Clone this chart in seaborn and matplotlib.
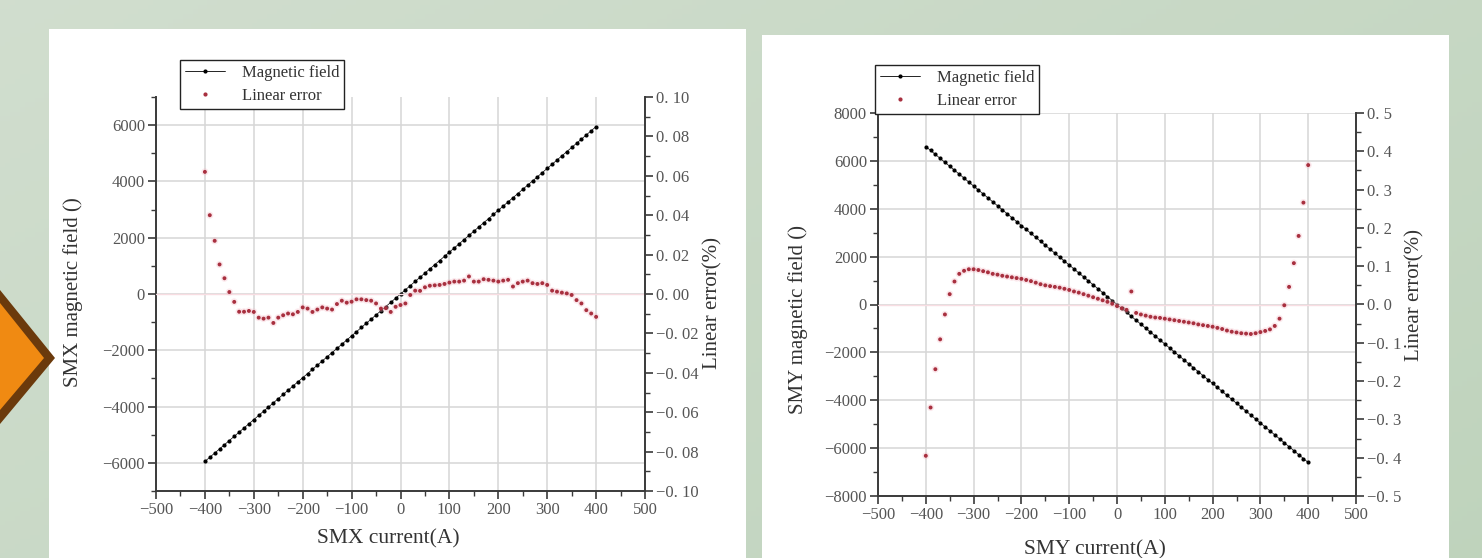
import numpy as np
import pandas as pd
import seaborn as sns
import matplotlib
matplotlib.use("Agg")
import matplotlib.pyplot as plt
from matplotlib.patches import Rectangle, Polygon
from matplotlib.lines import Line2D
from matplotlib.ticker import MultipleLocator, FuncFormatter

# Current steps (A), shared by both magnets
current = [-400, -390, -380, -370, -360, -350, -340, -330, -320, -310,
           -300, -290, -280, -270, -260, -250, -240, -230, -220, -210,
           -200, -190, -180, -170, -160, -150, -140, -130, -120, -110,
           -100, -90, -80, -70, -60, -50, -40, -30, -20, -10,
           0,
           10, 20, 30, 40, 50, 60, 70, 80, 90, 100,
           110, 120, 130, 140, 150, 160, 170, 180, 190, 200,
           210, 220, 230, 240, 250, 260, 270, 280, 290, 300,
           310, 320, 330, 340, 350, 360, 370, 380, 390, 400]

# SMX magnet
smx_field = [-5950, -5801, -5653, -5504, -5355, -5206, -5058, -4909, -4760, -4611,
             -4463, -4314, -4165, -4016, -3868, -3719, -3570, -3421, -3273, -3124,
             -2975, -2826, -2678, -2529, -2380, -2231, -2083, -1934, -1785, -1636,
             -1488, -1339, -1190, -1041, -893, -744, -595, -446, -298, -149,
             0,
             149, 298, 446, 595, 744, 893, 1041, 1190, 1339, 1488,
             1636, 1785, 1934, 2083, 2231, 2380, 2529, 2678, 2826, 2975,
             3124, 3273, 3421, 3570, 3719, 3868, 4016, 4165, 4314, 4463,
             4611, 4760, 4909, 5058, 5206, 5355, 5504, 5653, 5801, 5950]
smx_error = [0.062, 0.040, 0.027, 0.015, 0.008, 0.001, -0.004, -0.009, -0.0090, -0.0086,
             -0.0091, -0.0120, -0.0125, -0.0120, -0.0147, -0.0120, -0.0108, -0.0099, -0.0103, -0.0091,
             -0.0068, -0.0074, -0.0091, -0.0079, -0.0068, -0.0074, -0.0079, -0.0051, -0.0034, -0.0044,
             -0.0039, -0.0027, -0.0027, -0.0031, -0.0034, -0.0048, -0.0074, -0.0072, -0.0091, -0.0065,
             -0.0056,
             -0.0048, -0.0005, 0.0017, 0.0016, 0.0034, 0.0042, 0.0044, 0.0046, 0.0051, 0.0058,
             0.0063, 0.0063, 0.0068, 0.0089, 0.0063, 0.0063, 0.0075, 0.0072, 0.0068, 0.0063,
             0.0068, 0.0072, 0.0038, 0.0055, 0.0063, 0.0068, 0.0055, 0.0051, 0.0055, 0.0046,
             0.0017, 0.0012, 0.0007, 0.0003, -0.0005, -0.0031, -0.0048, -0.0082, -0.0099, -0.0116]

# SMY magnet
smy_field = [6600, 6435, 6270, 6105, 5940, 5775, 5610, 5445, 5280, 5115,
             4950, 4785, 4620, 4455, 4290, 4125, 3960, 3795, 3630, 3465,
             3300, 3135, 2970, 2805, 2640, 2475, 2310, 2145, 1980, 1815,
             1650, 1485, 1320, 1155, 990, 825, 660, 495, 330, 165,
             0,
             -165, -330, -495, -660, -825, -990, -1155, -1320, -1485, -1650,
             -1815, -1980, -2145, -2310, -2475, -2640, -2805, -2970, -3135, -3300,
             -3465, -3630, -3795, -3960, -4125, -4290, -4455, -4620, -4785, -4950,
             -5115, -5280, -5445, -5610, -5775, -5940, -6105, -6270, -6435, -6600]
smy_error = [-0.395, -0.269, -0.169, -0.091, -0.026, 0.027, 0.060, 0.080, 0.088, 0.092,
             0.092, 0.090, 0.087, 0.084, 0.080, 0.078, 0.075, 0.073, 0.071, 0.069,
             0.067, 0.064, 0.061, 0.057, 0.053, 0.050, 0.048, 0.046, 0.044, 0.041,
             0.038, 0.034, 0.031, 0.027, 0.023, 0.019, 0.015, 0.011, 0.007, 0.002,
             -0.004,
             -0.010, -0.014, 0.034, -0.022, -0.026, -0.029, -0.032, -0.034, -0.035, -0.037,
             -0.039, -0.041, -0.043, -0.045, -0.047, -0.049, -0.052, -0.054, -0.056, -0.058,
             -0.061, -0.064, -0.068, -0.071, -0.073, -0.075, -0.076, -0.077, -0.075, -0.072,
             -0.069, -0.065, -0.056, -0.037, -0.002, 0.046, 0.108, 0.179, 0.266, 0.364]

sns.set_theme(style="ticks")
plt.rcParams["font.family"] = ["Liberation Serif", "DejaVu Serif"]

W, H = 1482, 558
fig = plt.figure(figsize=(W / 100, H / 100), dpi=100)

# slide background: soft green gradient, white panels, orange arrow
bg = fig.add_axes([0, 0, 1, 1], zorder=-10)
t = np.add.outer(np.linspace(0, 0.4, 120), np.linspace(0, 0.6, 300))
c0 = np.array([0.82, 0.87, 0.81])
c1 = np.array([0.75, 0.83, 0.74])
bg.imshow(c0 * (1 - t[..., None]) + c1 * t[..., None], extent=[0, W, H, 0], aspect="auto")
bg.set_xlim(0, W)
bg.set_ylim(H, 0)
bg.axis("off")
bg.add_patch(Rectangle((49, 29), 697, 540, fc="white", ec="none"))
bg.add_patch(Rectangle((762, 35), 687, 540, fc="white", ec="none"))
bg.add_patch(Polygon([(0, 290), (55, 358), (0, 424)], fc="#6b3a0c", ec="none"))
bg.add_patch(Polygon([(0, 303), (44, 358), (0, 410)], fc="#f08a12", ec="none"))

txt = "#333333"
tick_txt = "#555555"
red = "#a8303f"


def fmt_int(v, _):
    return f"{v:.0f}".replace("-", "\u2212")


def make_fmt(nd):
    def f(v, _):
        if abs(v) < 1e-9:
            v = 0.0
        return f"{v:.{nd}f}".replace("-", "\u2212").replace(".", ". ")
    return f


def draw_panel(rect, field, error, name, flim, fstep, elim, estep, nd,
               leg_anchor, ylab_xy, ylab2_xy, xlab_xy):
    ax = fig.add_axes(rect)
    df = pd.DataFrame({"current": current, "field": field, "error": error})

    sns.lineplot(data=df, x="current", y="field", ax=ax, color="black", lw=0.5,
                 marker="o", markersize=3.0, markeredgewidth=0, legend=False)
    axr = ax.twinx()
    axr.axhline(0, color="#f8dde2", lw=1.0, zorder=0)
    sns.scatterplot(data=df, x="current", y="error", ax=axr, color="#f4b6c2",
                    s=26, alpha=0.3, edgecolor="none", legend=False)
    sns.scatterplot(data=df, x="current", y="error", ax=axr, color=red,
                    s=8, edgecolor="none", legend=False)

    ax.set_xlim(-500, 500)
    ax.set_ylim(-flim, flim)
    axr.set_ylim(-elim, elim)
    ax.xaxis.set_major_locator(MultipleLocator(100))
    ax.xaxis.set_minor_locator(MultipleLocator(50))
    ax.yaxis.set_major_locator(MultipleLocator(fstep))
    ax.yaxis.set_minor_locator(MultipleLocator(fstep / 2))
    axr.yaxis.set_major_locator(MultipleLocator(estep))
    axr.yaxis.set_minor_locator(MultipleLocator(estep / 2))
    ax.xaxis.set_major_formatter(FuncFormatter(fmt_int))
    ax.yaxis.set_major_formatter(FuncFormatter(fmt_int))
    axr.yaxis.set_major_formatter(FuncFormatter(make_fmt(nd)))

    ax.grid(True, which="major", color="#d6d6d6", lw=1.1)
    ax.set_axisbelow(True)
    ax.set_facecolor("white")

    for a in (ax, axr):
        a.spines["top"].set_visible(False)
        for s in a.spines.values():
            s.set_color("#3a3a3a")
            s.set_linewidth(1.4)
    ax.spines["right"].set_visible(False)
    axr.spines["left"].set_visible(False)
    axr.spines["bottom"].set_visible(False)

    for a in (ax, axr):
        a.tick_params(which="major", direction="out", length=6, width=1.2,
                      color="#3a3a3a", labelsize=12, labelcolor=tick_txt, pad=2)
        a.tick_params(which="minor", direction="out", length=3.5, width=1.0,
                      color="#3a3a3a")

    ax.set_xlabel(f"{name} current(A)", fontsize=15.5, color=txt)
    ax.set_ylabel(f"{name} magnetic field ()", fontsize=15, color=txt)
    axr.set_ylabel("Linear error(%)", fontsize=15, color=txt)
    ax.xaxis.set_label_coords(*xlab_xy)
    ax.yaxis.set_label_coords(*ylab_xy)
    axr.yaxis.set_label_coords(*ylab2_xy)

    handles = [Line2D([], [], color="black", lw=0.6, marker="o", markersize=3.0,
                      markeredgewidth=0),
               Line2D([], [], ls="none", marker="o", color=red, markersize=3.0,
                      markeredgewidth=0)]
    leg = axr.legend(handles, ["Magnetic field", "Linear error"], loc="upper left",
                     bbox_to_anchor=leg_anchor, bbox_transform=fig.transFigure,
                     frameon=True, fancybox=False, framealpha=1, edgecolor="#222222",
                     fontsize=12, handlelength=2.4, handletextpad=1.0,
                     borderpad=0.3, labelspacing=0.4, borderaxespad=0)
    leg.get_frame().set_linewidth(1.0)
    for tx in leg.get_texts():
        tx.set_color(txt)
    return ax, axr


draw_panel([156 / W, (H - 491) / H, 489 / W, 394 / H], smx_field, smx_error, "SMX",
           7000, 2000, 0.10, 0.02, 2,
           (180 / W, 1 - 60 / H), (-0.149, 0.505), (1.119, 0.477), (0.475, -0.096))

draw_panel([878 / W, (H - 496) / H, 478 / W, 383 / H], smy_field, smy_error, "SMY",
           8000, 2000, 0.5, 0.1, 1,
           (875 / W, 1 - 65 / H), (-0.146, 0.46), (1.1025, 0.525), (0.454, -0.115))

fig.savefig("out.png", dpi=100)
